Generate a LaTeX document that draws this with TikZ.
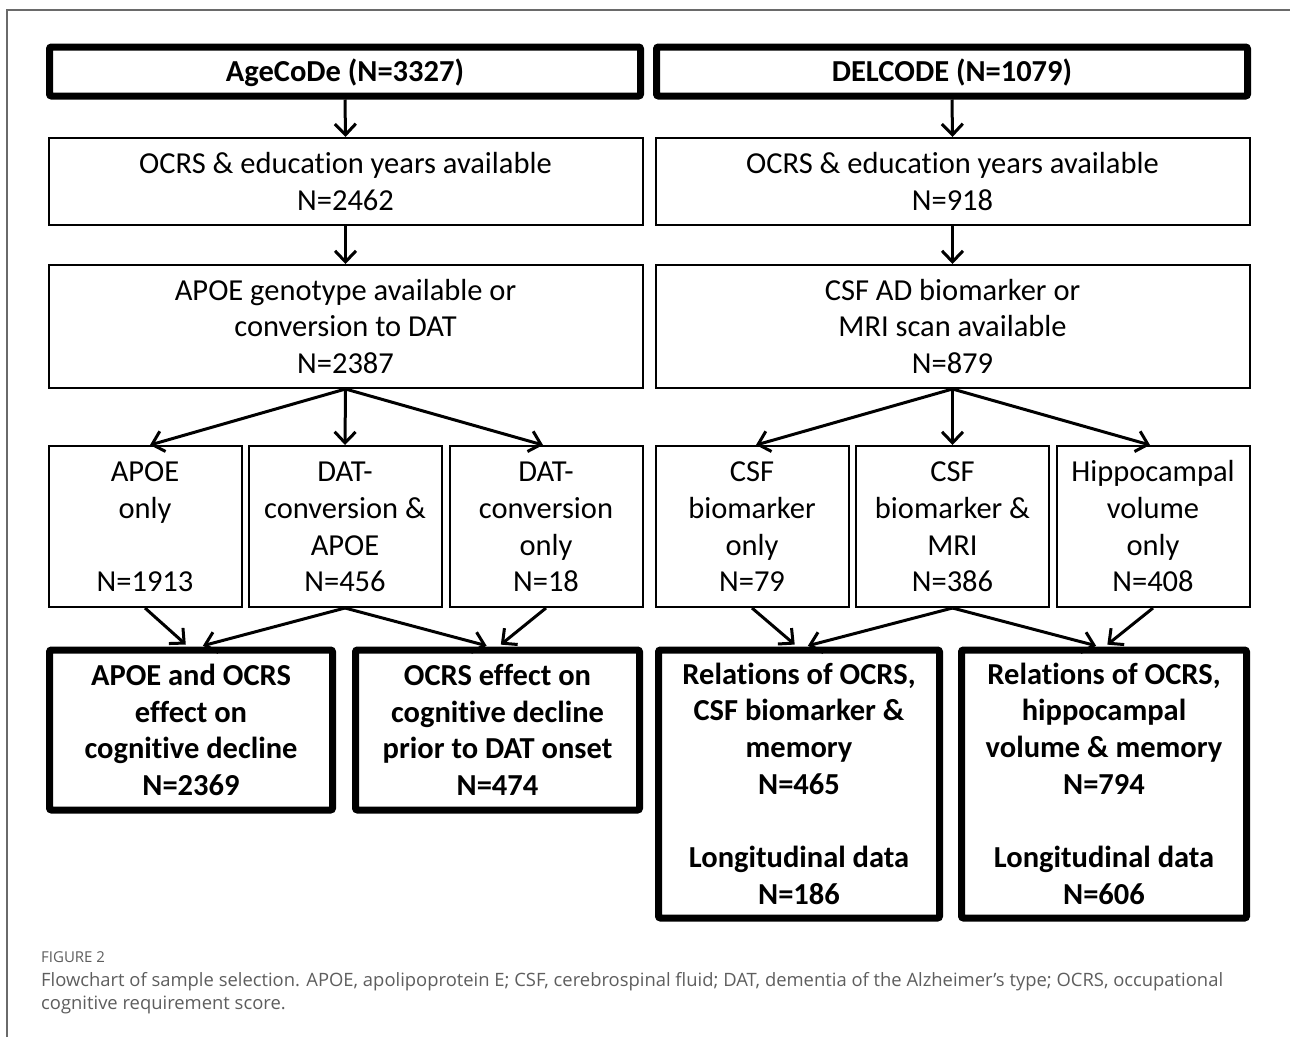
\documentclass[tikz,border=0pt]{standalone}
\usepackage{fontspec}
\setmainfont[Ligatures=NoCommon]{Carlito}
\newfontfamily\capfont{Open Sans}
\usetikzlibrary{arrows.meta}
\definecolor{capgray}{HTML}{5E5E5E}
\definecolor{framegray}{HTML}{6A6A6A}
\newcommand\tsa{\rule{0pt}{31.7pt}}
\newcommand\tsb{\rule[-11pt]{0pt}{11pt}}
\begin{document}
\begin{tikzpicture}[x=1pt,y=-1pt,
  thinbox/.style={draw, line width=2pt, inner sep=0pt, align=center,
    font=\fontsize{30.5}{36.7}\selectfont},
  thickbox/.style={draw, line width=7pt, rounded corners=2pt, inner sep=0pt, align=center,
    font=\fontsize{30.5}{36.7}\selectfont\bfseries},
  arr/.style={line width=3pt, -{Straight Barb[length=11pt,width=21pt]}},
  capline/.style={anchor=base west, inner sep=0pt, text=capgray,
    font=\capfont\fontsize{18.4}{23}\selectfont}
]
\useasboundingbox (0,0) rectangle (1290,1037);
\fill[white] (0,0) rectangle (1290,1037);
% page frame
\draw[line width=1.4pt, framegray] (7,1037) -- (7,10) -- (1290,10);

% top
\node[thickbox, minimum width=591pt, minimum height=49pt] (ag) at (345,71.5) {\tsa AgeCoDe (N=3327)\tsb};
\node[thickbox, minimum width=591pt, minimum height=49pt] (dc) at (952,71.5) {\tsa DELCODE (N=1079)\tsb};

% row 2
\node[thinbox, minimum width=594pt, minimum height=87pt] (ag2) at (345.5,181.5) {\tsa OCRS \& education years available\\N=2462\tsb};
\node[thinbox, minimum width=594pt, minimum height=87pt] (dc2) at (952.5,181.5) {\tsa OCRS \& education years available\\N=918\tsb};

% row 3
\node[thinbox, minimum width=594pt, minimum height=123pt] (ag3) at (345.5,326.5) {\tsa APOE genotype available or\\conversion to DAT\\N=2387\tsb};
\node[thinbox, minimum width=594pt, minimum height=123pt] (dc3) at (952.5,326.5) {\tsa CSF AD biomarker or\\MRI scan available\\N=879\tsb};

% row 4
\node[thinbox, minimum width=193pt, minimum height=161pt] (a1) at (145,526.5) {\tsa APOE\\only\\\mbox{}\\N=1913\tsb};
\node[thinbox, minimum width=193pt, minimum height=161pt] (a2) at (345,526.5) {\tsa DAT-\\conversion \&\\APOE\\N=456\tsb};
\node[thinbox, minimum width=193pt, minimum height=161pt] (a3) at (546,526.5) {\tsa DAT-\\conversion\\only\\N=18\tsb};
\node[thinbox, minimum width=193pt, minimum height=161pt] (d1) at (752,526.5) {\tsa CSF\\biomarker\\only\\N=79\tsb};
\node[thinbox, minimum width=193pt, minimum height=161pt] (d2) at (952.5,526.5) {\tsa CSF\\biomarker \&\\MRI\\N=386\tsb};
\node[thinbox, minimum width=193pt, minimum height=161pt] (d3) at (1153,526.5) {\tsa Hippocampal\\volume\\only\\N=408\tsb};

% row 5
\node[thickbox, minimum width=283pt, minimum height=160pt] (r1) at (191,730) {\tsa APOE and OCRS\\effect on\\cognitive decline\\N=2369\tsb};
\node[thickbox, minimum width=284pt, minimum height=160pt] (r2) at (497.5,730) {\tsa OCRS effect on\\cognitive decline\\prior to DAT onset\\N=474\tsb};
\node[thickbox, minimum width=281pt, minimum height=268pt] (r3) at (799,784) {\tsa Relations of OCRS,\\CSF biomarker \&\\memory\\N=465\\\mbox{}\\Longitudinal data\\N=186\tsb};
\node[thickbox, minimum width=285pt, minimum height=268pt] (r4) at (1104,784) {\tsa Relations of OCRS,\\hippocampal\\volume \& memory\\N=794\\\mbox{}\\Longitudinal data\\N=606\tsb};

% arrows
\draw[arr] (ag.south) -- (ag2.north);
\draw[arr] (dc.south) -- (dc2.north);
\draw[arr] (ag2.south) -- (ag3.north);
\draw[arr] (dc2.south) -- (dc3.north);

\draw[arr] (ag3.south) -- ([xshift=5pt]a1.north);
\draw[arr] (ag3.south) -- (a2.north);
\draw[arr] (ag3.south) -- ([xshift=-3pt]a3.north);
\draw[arr] (dc3.south) -- ([xshift=4pt]d1.north);
\draw[arr] (dc3.south) -- (d2.north);
\draw[arr] (dc3.south) -- ([xshift=-3pt]d3.north);

\draw[arr, shorten >=3pt] (a1.south) -- ([xshift=-3pt]r1.north);
\draw[arr, shorten >=3pt] (a2.south) -- ([xshift=9pt]r1.north);
\draw[arr, shorten >=3pt] (a2.south) -- ([xshift=-8pt]r2.north);
\draw[arr, shorten >=3pt] (a3.south) -- ([xshift=1pt]r2.north);
\draw[arr, shorten >=3pt] (d1.south) -- ([xshift=-2pt]r3.north);
\draw[arr, shorten >=3pt] (d2.south) -- ([xshift=6pt]r3.north);
\draw[arr, shorten >=3pt] (d2.south) -- ([xshift=-5pt]r4.north);
\draw[arr, shorten >=3pt] (d3.south) -- ([xshift=1pt]r4.north);

% caption
\node[capline, font=\capfont\fontsize{15}{17}\selectfont] (figlab) at (41,962.5) {FIGURE 2};
\node[capline] (cap1) at (41,986) {Flowchart of sample selection. APOE, apolipoprotein E; CSF, cerebrospinal fluid; DAT, dementia of the Alzheimer’s type; OCRS, occupational};
\node[capline] (cap2) at (41,1009) {cognitive requirement score.};
\end{tikzpicture}
\end{document}
